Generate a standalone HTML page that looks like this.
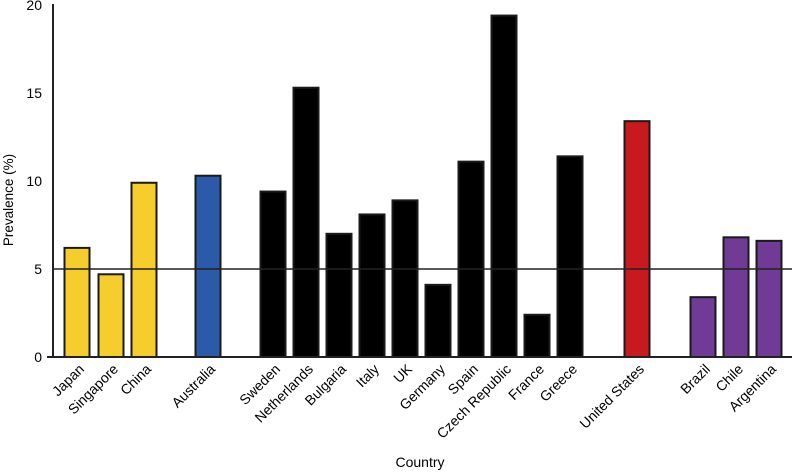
<!DOCTYPE html>
<html><head><meta charset="utf-8"><style>
body{margin:0;background:#fff;overflow:hidden;}
svg{display:block;}
svg text{font-family:"Liberation Sans",Arial,sans-serif;}
</style></head><body>
<svg id="chart" width="795" height="472" xmlns="http://www.w3.org/2000/svg"></svg>
<script>
const categories=["Japan","Singapore","China","Australia","Sweden","Netherlands","Bulgaria","Italy","UK","Germany","Spain","Czech Republic","France","Greece","United States","Brazil","Chile","Argentina"];
const values=[6.2,4.7,9.9,10.3,9.4,15.3,7.0,8.1,8.9,4.1,11.1,19.4,2.4,11.4,13.4,3.4,6.8,6.6];
const groups=["asia","asia","asia","oceania","europe","europe","europe","europe","europe","europe","europe","europe","europe","europe","na","sa","sa","sa"];
const yTicks=[0,5,10,15,20];
const refValue=5;
const colors={asia:"#f5cd2d",oceania:"#2a5aa8",europe:"#000",na:"#c81a1e",sa:"#6f3b94"};
const centers=[77,111,144,208,273,306,339,372,405,438,471,504,537,570,637,703,736,769];
const NS="http://www.w3.org/2000/svg";
const svg=document.getElementById('chart');
const y0=357,k=17.6;
const y=v=>y0-v*k;
function el(t,a){const e=document.createElementNS(NS,t);for(const n in a)e.setAttribute(n,a[n]);svg.appendChild(e);return e;}
values.forEach((v,i)=>{
 const r=el('rect',{x:centers[i]-12.5,y:y(v),width:25,height:y0-y(v),fill:colors[groups[i]],stroke:"#1a1a1a","stroke-width":2});
 
 
 const t=el('text',{x:0,y:0,"font-size":14,"text-anchor":"end",transform:`translate(${centers[i]+8},${y0+13}) rotate(-45)`});
 t.textContent=categories[i];
 
 
});
const ref=el('line',{x1:53,x2:792,y1:y(refValue),y2:y(refValue),stroke:"#222","stroke-width":1.5});


const ya=el('line',{x1:53,x2:53,y1:4,y2:y0+1,stroke:"#222","stroke-width":2});


const xa=el('line',{x1:47,x2:792,y1:y0,y2:y0,stroke:"#222","stroke-width":2});


yTicks.forEach(v=>{
 const t=el('text',{x:42,y:y(v)+5,"font-size":14,"text-anchor":"end"});
 t.textContent=v;
 
 
});
const yt=el('text',{x:0,y:0,"font-size":13.5,"text-anchor":"middle",transform:"translate(13,200) rotate(-90)"});
yt.textContent="Prevalence (%)";


const xt=el('text',{x:420,y:467,"font-size":14,"text-anchor":"middle"});
xt.textContent="Country";


</script>
</body></html>
